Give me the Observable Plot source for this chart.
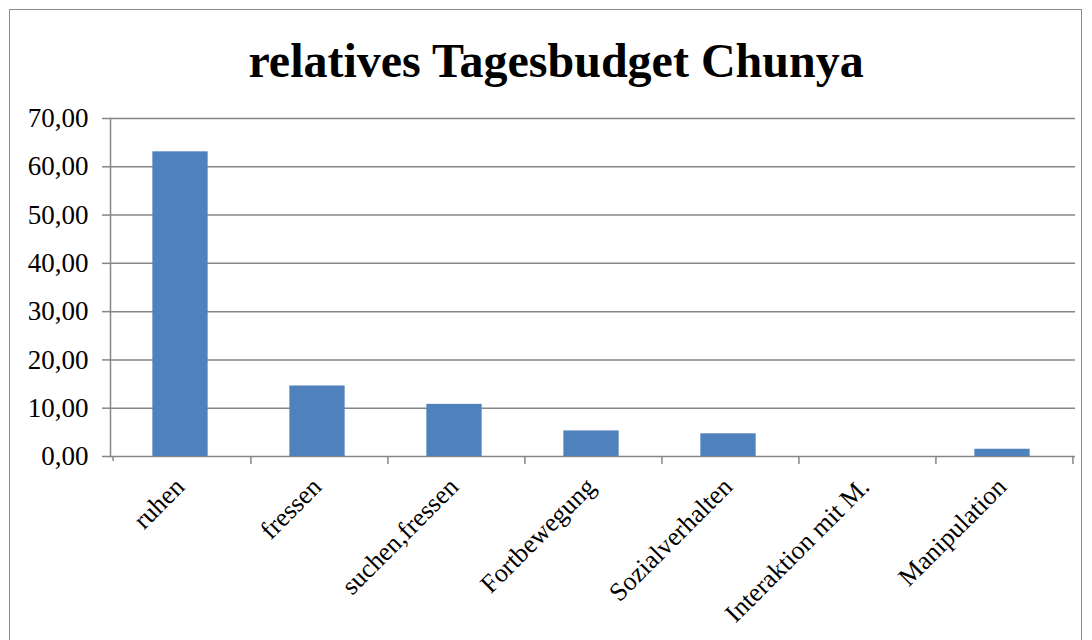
<!DOCTYPE html>
<html>
<head>
<meta charset="utf-8">
<script src="https://cdn.jsdelivr.net/npm/d3@7"></script>
<script src="https://cdn.jsdelivr.net/npm/@observablehq/plot@0.6"></script>
<style>
  html, body { margin: 0; padding: 0; background: #fff; }
  #wrap { position: relative; width: 1092px; height: 640px; overflow: hidden; }
  #frame { position: absolute; left: 9px; top: 9px; width: 1073px; height: 700px; border: 1.5px solid #8c8c8c; box-sizing: border-box; }
  #chart { position: absolute; left: 0; top: 0; }
  #chart svg text { font-family: 'Liberation Serif', 'Times New Roman', serif; }
</style>
</head>
<body>
<div id="wrap"><div id="frame"></div><div id="chart"></div></div>
<script>
const title = "relatives Tagesbudget Chunya";
const categories = ["ruhen", "fressen", "suchen,fressen", "Fortbewegung", "Sozialverhalten", "Interaktion mit M.", "Manipulation"];
const values = [63.1, 14.6, 10.8, 5.3, 4.7, 0, 1.5];
const yTicks = [0, 10, 20, 30, 40, 50, 60, 70];
const yTickLabels = ["0,00", "10,00", "20,00", "30,00", "40,00", "50,00", "60,00", "70,00"];

const data = categories.map((c, i) => ({category: c, value: values[i]}));

const W = 1092, H = 640, mL = 110, mR = 17, mT = 118, mB = 184;
const band = (W - mL - mR) / categories.length;
const barInset = band * 0.3;
const grid = "#868686";
const serif = "'Liberation Serif', 'Times New Roman', serif";

const chart = Plot.plot({
  width: W,
  height: H,
  marginLeft: mL,
  marginRight: mR,
  marginTop: mT,
  marginBottom: mB,
  style: {background: "transparent", color: "black", fontFamily: serif},
  x: {domain: categories, padding: 0},
  y: {domain: [0, 70]},
  marks: [
    Plot.gridY(yTicks, {stroke: grid, strokeOpacity: 1, strokeWidth: 1.5}),
    Plot.frame({anchor: "left", stroke: grid, strokeWidth: 1.5}),
    Plot.barY(data, {x: "category", y: "value", fill: "#4F81BD", insetLeft: barInset - 2, insetRight: barInset + 1}),
    Plot.ruleX(categories, {x: d => d, y1: 0, y2: 0, dx: band / 2, insetBottom: -8, stroke: grid, strokeWidth: 1.5}),
    Plot.ruleX(categories.slice(0, 1), {x: d => d, y1: 0, y2: 0, dx: -band / 2, insetBottom: -5, stroke: grid, strokeWidth: 1.5}),
    Plot.axisY({
      ticks: yTicks,
      tickFormat: d => yTickLabels[yTicks.indexOf(d)],
      tickSize: 8,
      tickPadding: 14,
      stroke: grid,
      strokeWidth: 1.5,
      fontSize: 27,
      fontFamily: serif,
      fontVariant: "normal",
      label: null
    }),
    Plot.axisX({
      tickSize: 0,
      tickRotate: -45,
      tickPadding: 26,
      dx: -2,
      fontSize: 26,
      fontFamily: serif,
      label: null
    }),
    Plot.text([title], {
      frameAnchor: "top",
      dx: -37,
      dy: -76,
      text: d => d,
      fontSize: 48,
      fontWeight: "bold",
      fontFamily: serif,
      fill: "black"
    })
  ]
});
document.getElementById("chart").appendChild(chart);
</script>
</body>
</html>
